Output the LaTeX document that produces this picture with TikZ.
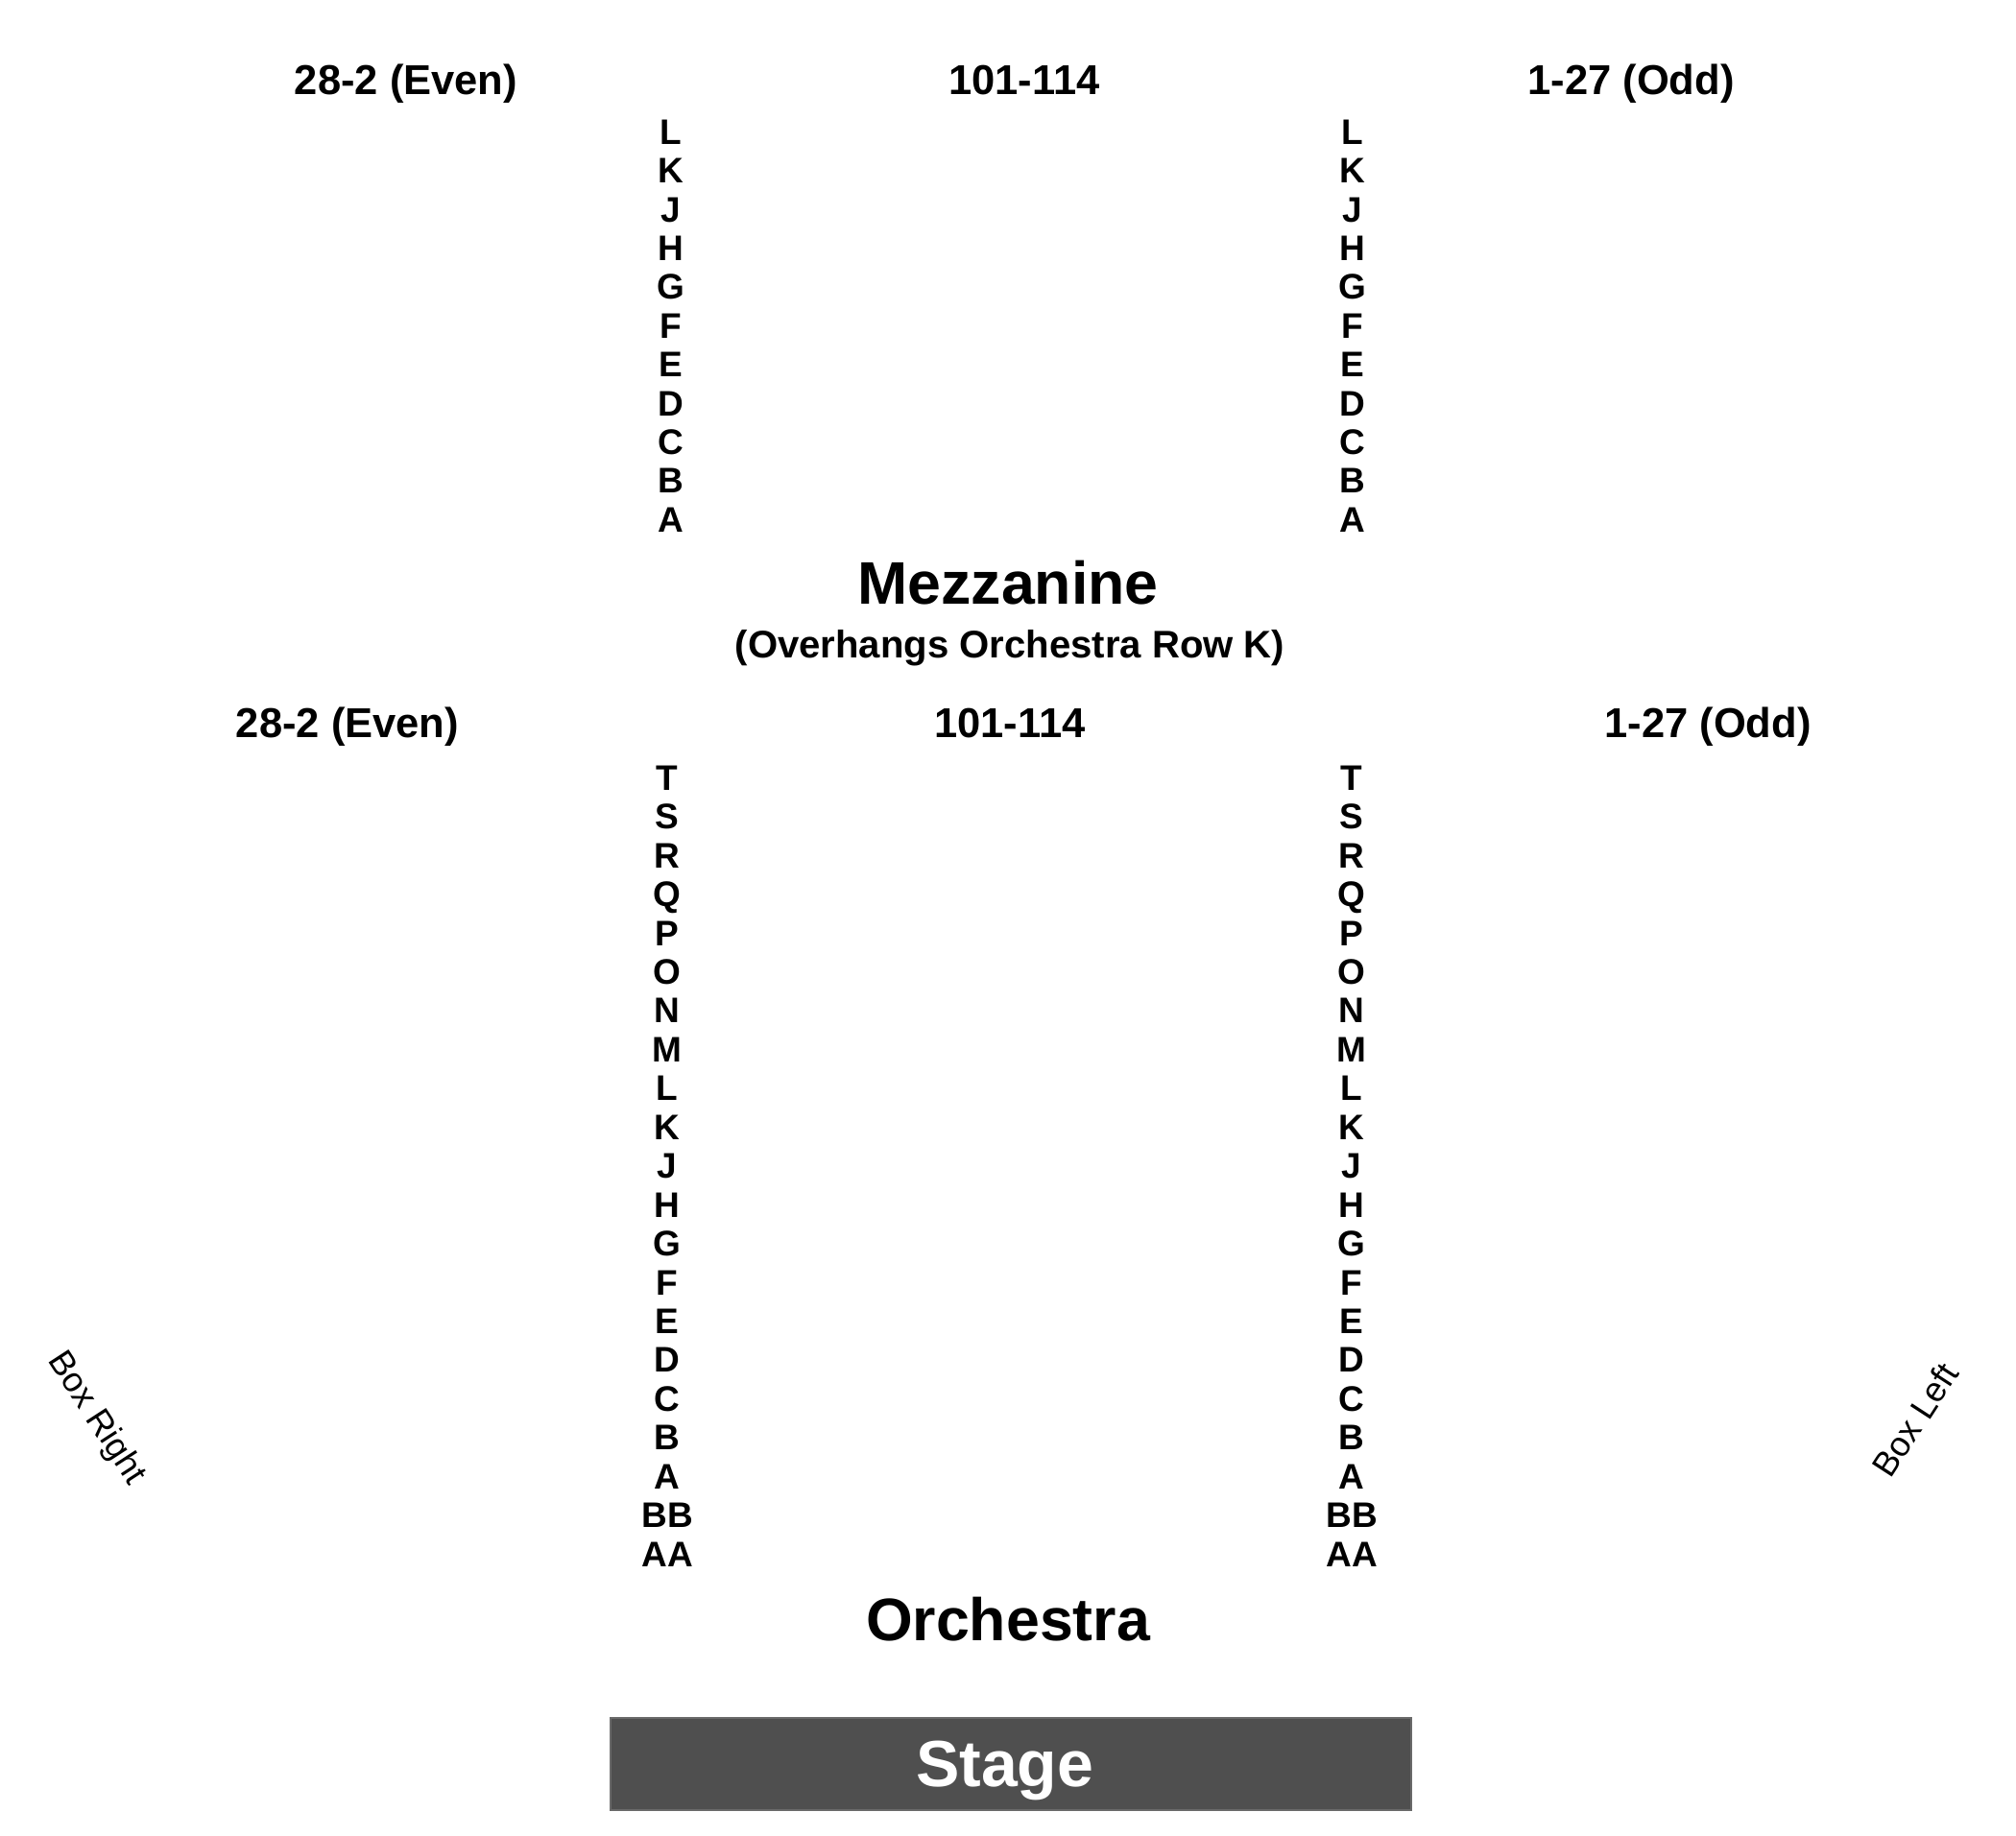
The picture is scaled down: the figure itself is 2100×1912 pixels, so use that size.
\documentclass[tikz,border=0pt]{standalone}
\usepackage{fontspec}
\setmainfont{Liberation Sans}
\definecolor{stagegray}{HTML}{4F4F4F}
\definecolor{stageedge}{HTML}{6A6A6A}
\tikzset{
  hdr/.style={font=\fontsize{43.5}{50}\selectfont\bfseries, anchor=base, inner sep=0pt},
  rowlbl/.style={font=\fontsize{37}{40}\selectfont\bfseries, anchor=base, inner sep=0pt},
  sectitle/.style={font=\fontsize{62.6}{70}\selectfont\bfseries, anchor=base, inner sep=0pt},
  subtitle/.style={font=\fontsize{40.1}{46}\selectfont\bfseries, anchor=base, inner sep=0pt},
  boxlbl/.style={font=\fontsize{36}{40}\selectfont, inner sep=0pt},
  stagebox/.style={fill=stagegray, draw=stageedge, line width=1.5pt, inner sep=0pt,
    minimum width=834pt, minimum height=96pt, anchor=north west},
  stagetxt/.style={font=\fontsize{68}{74}\selectfont\bfseries, text=white, anchor=base, inner sep=0pt},
}
\begin{document}
\begin{tikzpicture}[x=1pt,y=-1pt]
\useasboundingbox (0,0) rectangle (2100,1912);
% Mezzanine headers
\node[hdr] (mzEven) at (423,98.6) {28-2 (Even)};
\node[hdr] (mzMid)  at (1067,98.6) {101-114};
\node[hdr] (mzOdd)  at (1699,98.6) {1-27 (Odd)};
% Mezzanine rows
\foreach \r [count=\i] in {L,K,J,H,G,F,E,D,C,B,A} {
  \node[rowlbl] (mzl\i) at (699,{137+(\i-1)*40.4+13.2}) {\r};
  \node[rowlbl] (mzr\i) at (1409,{137+(\i-1)*40.4+13.2}) {\r};
}
\node[sectitle] (mezz) at (1050,629) {Mezzanine};
\node[subtitle] (overh) at (1052,685.5) {(Overhangs Orchestra Row K)};
% Orchestra headers
\node[hdr] (orEven) at (362,768.6) {28-2 (Even)};
\node[hdr] (orMid)  at (1052,768.6) {101-114};
\node[hdr] (orOdd)  at (1779,768.6) {1-27 (Odd)};
% Orchestra rows
\foreach \r [count=\i] in {T,S,R,Q,P,O,N,M,L,K,J,H,G,F,E,D,C,B,A,BB,AA} {
  \node[rowlbl] (orl\i) at (695,{810+(\i-1)*40.45+13.2}) {\r};
  \node[rowlbl] (orr\i) at (1408,{810+(\i-1)*40.45+13.2}) {\r};
}
\node[sectitle] (orch) at (1050,1709) {Orchestra};
% Boxes
\node[boxlbl, rotate=-57] (boxR) at (100,1478) {Box Right};
\node[boxlbl, rotate=57] (boxL) at (1995,1479) {Box Left};
% Stage
\node[stagebox] (stage) at (635,1789) {};
\node[stagetxt] (stagelbl) at ([xshift=-6pt,yshift=-24pt]stage.center) {Stage};
\end{tikzpicture}
\end{document}
